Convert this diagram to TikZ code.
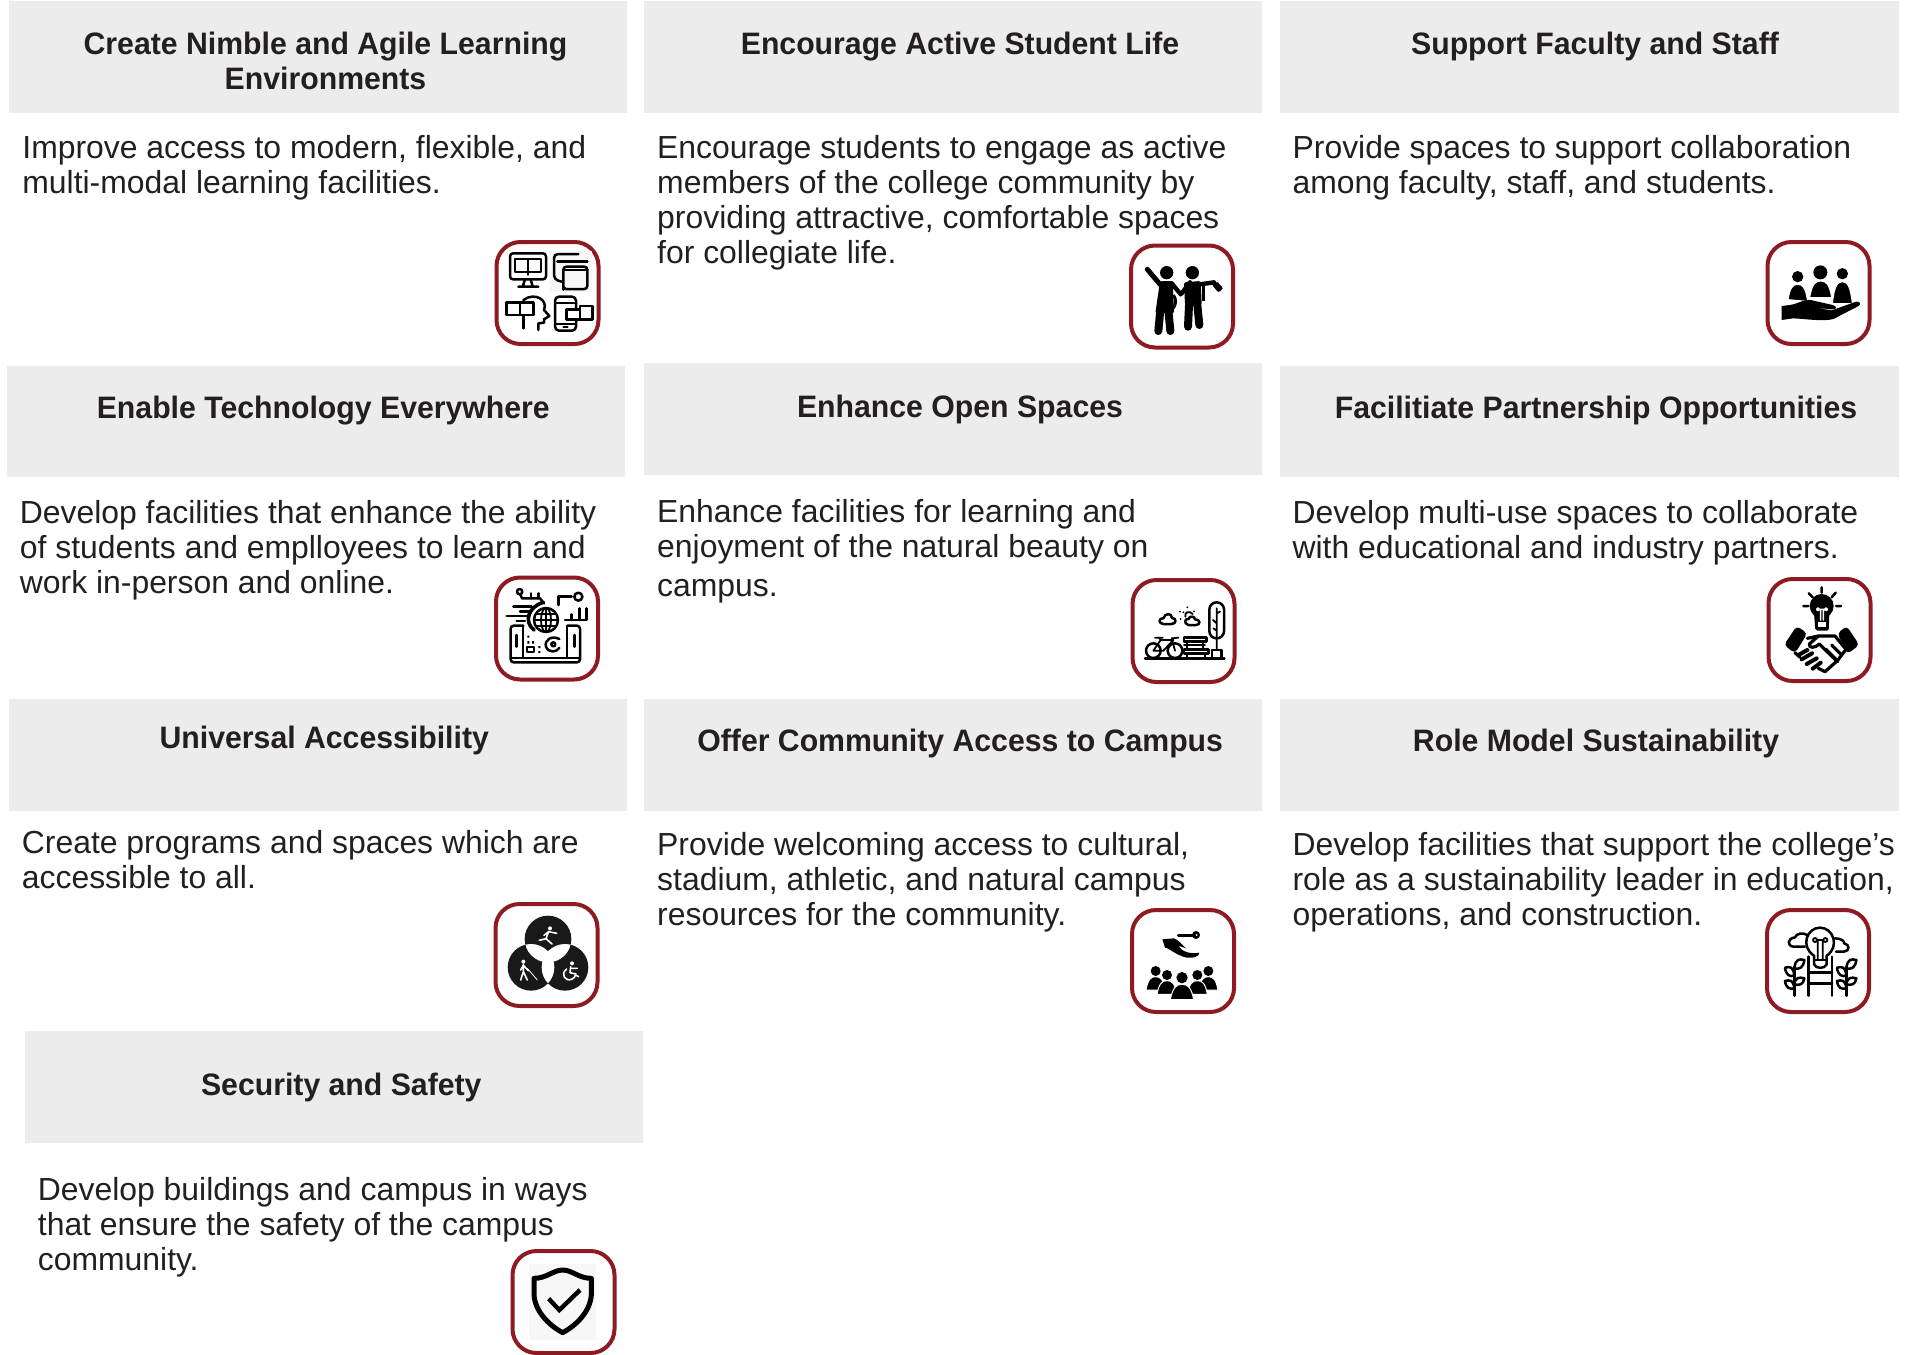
\documentclass[tikz,border=0pt]{standalone}
\usepackage{fontspec}
\setmainfont{Liberation Sans}[BoldFeatures={FakeStretch=0.975}]
\definecolor{hdr}{HTML}{ECECEC}
\definecolor{ink}{HTML}{231F20}
\definecolor{maroon}{HTML}{8E1B22}
\definecolor{bgicon}{HTML}{F7F7F7}
\tikzset{
 header/.style={fill=hdr,draw=none,inner sep=0pt,minimum width=309.25pt,minimum height=55.6pt,anchor=north west},
 titletext/.style={font=\bfseries\fontsize{15.5pt}{17.5pt}\selectfont,text=ink,align=center,anchor=north,inner sep=0pt},
 bodytext/.style={font=\fontsize{15.95pt}{17.5pt}\selectfont,text=ink,align=left,anchor=north west,inner sep=0pt},
 iconframe/.style={draw=maroon,line width=2pt,rounded corners=12pt,minimum width=51pt,minimum height=51pt,inner sep=0pt,fill=white},
 iconspace/.style 2 args={shift={(#1,#2)},x=0.16667pt,y=-0.16667pt},
 ln/.style={draw=black,line width=1.25pt,line cap=round,line join=round},
 thin ln/.style={draw=black,line width=0.9pt,line cap=round,line join=round},
 wl/.style={draw=white,line width=0.8pt,line cap=round,line join=round},
}
\newcommand\bell[4]{% x, top, bottom, halfwidth
 \filldraw[fill=black,draw=white,line width=0.5pt] ({#1-#4},#3) .. controls ({#1-0.8*#4},{#2+0.2*(#3-#2)}) and ({#1-0.5*#4},#2) .. (#1,#2) .. controls ({#1+0.5*#4},#2) and ({#1+0.8*#4},{#2+0.2*(#3-#2)}) .. ({#1+#4},#3) -- cycle;}
\newcommand\leaf[4]{% from, to
 \draw[ln] (#1,#2) .. controls ({#1+0.1*(#3-#1)},{#2-0.9*(#2-#4)-6}) and ({#1+0.5*(#3-#1)},{#4-4}) .. (#3,#4) .. controls ({#3-0.1*(#3-#1)},{#4+0.7*(#2-#4)+6}) and ({#1+0.5*(#3-#1)},{#2+4}) .. (#1,#2);}
\begin{document}
\begin{tikzpicture}[x=0.5pt,y=-0.5pt]
\useasboundingbox (0,0) rectangle (1915,1354);
\fill[white] (0,0) rectangle (1915,1354);
% headers
\node[header,minimum height=56pt] (h1) at (8.5,1) {};
\node[header,minimum height=56pt] (h2) at (643.5,1) {};
\node[header,minimum height=56pt] (h3) at (1280,1) {};
\node[header] (h4) at (6.5,365.5) {};
\node[header] (h5) at (643.5,363) {};
\node[header] (h6) at (1280,365.5) {};
\node[header] (h7) at (8.5,699) {};
\node[header] (h8) at (643.5,699) {};
\node[header] (h9) at (1280,699) {};
\node[header] (h10) at (24.5,1031) {};
% titles
\node[titletext] (t1) at (325.5,29.5) {\strut Create Nimble and Agile Learning\\\strut Environments};
\node[titletext] (t2) at (960,29.5) {\strut Encourage Active Student Life};
\node[titletext] (t3) at (1595,29.5) {\strut Support Faculty and Staff};
\node[titletext] (t4) at (323.3,394) {\strut Enable Technology Everywhere};
\node[titletext] (t5) at (960,393) {\strut Enhance Open Spaces};
\node[titletext] (t6) at (1596,394) {\strut Facilitiate Partnership Opportunities};
\node[titletext] (t7) at (324.3,724) {\strut Universal Accessibility};
\node[titletext] (t8) at (960.2,727) {\strut Offer Community Access to Campus};
\node[titletext] (t9) at (1596,727) {\strut Role Model Sustainability};
\node[titletext] (t10) at (341.3,1071) {\strut Security and Safety};
% bodies
\node[bodytext] (b1) at (22,133.5) {\strut Improve access to modern, flexible, and\\\strut multi-modal learning facilities.};
\node[bodytext] (b2) at (656.8,133.5) {\strut Encourage students to engage as active\\\strut members of the college community by\\\strut providing attractive, comfortable spaces\\\strut for collegiate life.};
\node[bodytext] (b3) at (1292.2,133.5) {\strut Provide spaces to support collaboration\\\strut among faculty, staff, and students.};
\node[bodytext] (b4) at (19.5,499) {\strut Develop facilities that enhance the ability\\\strut of students and emplloyees to learn and\\\strut work in-person and online.};
\node[bodytext] (b5) at (656.8,497.5) {\strut Enhance facilities for learning and\\\strut enjoyment of the natural beauty on\\[2pt]\strut campus.};
\node[bodytext] (b6) at (1292.2,499) {\strut Develop multi-use spaces to collaborate\\\strut with educational and industry partners.};
\node[bodytext] (b7) at (21.5,828.5) {\strut Create programs and spaces which are\\\strut accessible to all.};
\node[bodytext] (b8) at (656.8,831) {\strut Provide welcoming access to cultural,\\\strut stadium, athletic, and natural campus\\\strut resources for the community.};
\node[bodytext] (b9) at (1292.2,831) {\strut Develop facilities that support the college's\\\strut role as a sustainability leader in education,\\\strut operations, and construction.};
\node[bodytext] (b10) at (37.5,1176) {\strut Develop buildings and campus in ways\\\strut that ensure the safety of the campus\\\strut community.};
% frames
\node[iconframe] (f1) at (547.5,293) {};
\node[iconframe] (f2) at (1182,296.5) {};
\node[iconframe] (f3) at (1818.5,293) {};
\node[iconframe] (f4) at (547,628.5) {};
\node[iconframe] (f5) at (1183.5,631) {};
\node[iconframe] (f6) at (1819.5,630) {};
\node[iconframe] (f7) at (546.5,955) {};
\node[iconframe] (f8) at (1183,961) {};
\node[iconframe] (f9) at (1818,961) {};
\node[iconframe] (f10) at (563.5,1302) {};
% icon 1: learning modes
\begin{scope}[iconspace={470}{220}]
\fill[bgicon] (238,92) rectangle (365,215);
\draw[ln,rounded corners=1.5pt] (120,100) rectangle (228,178);
\draw[thin ln] (135,118) rectangle (212,155);
\draw[thin ln] (173,118) -- (173,165);
\draw[ln] (165,178) -- (158,200) (182,178) -- (188,200) (145,200) -- (205,200);
\draw[ln,rounded corners=2pt] (325,102) -- (252,102) -- (252,178) -- (275,185);
\draw[ln] (262,125) -- (352,125);
\draw[ln,rounded corners=1.5pt] (280,200) -- (280,140) -- (352,140) -- (352,207) -- (280,207) -- cycle;
\draw[ln] (285,150) -- (352,150);
\draw[ln] (110,248) rectangle (150,285);
\draw[ln] (150,248) rectangle (190,285);
\draw[ln] (160,240) .. controls (195,215) and (235,240) .. (222,270) -- (238,288) -- (222,298) -- (222,308) -- (205,310) -- (205,330);
\draw[ln] (160,285) -- (160,325);
\draw[ln,rounded corners=2pt] (255,230) rectangle (318,332);
\draw[thin ln] (255,312) -- (318,312) (255,248) -- (318,248) (280,322) -- (293,322);
\filldraw[ln,fill=white] (290,268) rectangle (330,298);
\filldraw[ln,fill=white] (330,258) rectangle (368,298);
\end{scope}
% icon 2: two students
\begin{scope}[iconspace={1110}{225}]
\fill (170,143) circle[radius=20];
\fill (247,143) circle[radius=20];
\draw[black,line width=2.5pt,line cap=round] (112,133) -- (150,178);
\fill[rounded corners=1pt] (150,168) -- (188,168) -- (192,265) -- (136,265) -- cycle;
\draw[black,line width=4pt,line cap=round] (150,265) -- (145,318) (176,265) -- (181,318);
\draw[black,line width=2.2pt,line cap=round] (185,175) -- (212,208);
\draw[black,line width=1.5pt] (190,210) .. controls (200,225) and (198,235) .. (190,250);
\fill[rounded corners=1pt] (222,172) -- (272,168) -- (275,240) -- (225,240) -- cycle;
\draw[black,line width=2.2pt,line cap=round] (240,172) -- (215,205);
\draw[black,line width=4pt,line cap=round] (237,240) -- (234,305) (262,240) -- (268,300);
\draw[black,line width=2.2pt,line cap=round] (270,178) -- (312,172);
\fill (276,178) rectangle (284,228);
\fill[rounded corners=1pt] (305,178) -- (320,168) -- (340,190) -- (325,203) -- cycle;
\end{scope}
% icon 3: people on hand
\begin{scope}[iconspace={1750}{225}]
\fill (143,155) circle[radius=17];
\fill (211,142) circle[radius=21];
\fill (277,146) circle[radius=17];
\bell{143}{178}{230}{30}
\bell{212}{168}{218}{33}
\bell{277}{170}{236}{30}
\fill[white] (110,222) -- (310,240) -- (310,250) -- (110,250) -- cycle;
\fill (95,243) -- (120,240) .. controls (150,235) and (165,218) .. (195,228) -- (248,240) .. controls (262,245) and (262,252) .. (245,253) -- (195,248) -- (245,256) -- (318,230) .. controls (332,228) and (334,240) .. (324,244) -- (250,282) .. controls (220,290) and (170,282) .. (130,280) -- (95,285) -- cycle;
\end{scope}
% icon 4: tech
\begin{scope}[iconspace={470}{565}]
\draw[ln] (149,80) circle[radius=8];
\draw[ln] (151,88) -- (156,100) -- (210,100) -- (222,115);
\draw[ln] (183,85) -- (183,100) (205,85) -- (205,100);
\draw[ln] (130,125) -- (185,125) (150,140) -- (175,140) (110,153) -- (170,153) (140,168) -- (165,168);
\draw[ln] (228,165) circle[radius=36];
\draw[thin ln] (228,165) ellipse[x radius=15,y radius=36];
\draw[thin ln] (192,165) -- (264,165) (198,148) -- (258,148) (198,182) -- (258,182) (228,129) -- (228,201);
\draw[line width=1.8pt,line cap=round] (192,195) .. controls (160,170) and (175,125) .. (220,112);
\draw[ln] (265,120) -- (265,95) -- (305,95);
\draw[ln] (325,95) circle[radius=12];
\draw[ln] (285,165) -- (350,165) -- (350,130);
\draw[ln] (305,165) -- (305,148) (328,165) -- (328,130);
\draw[ln,rounded corners=1.5pt] (160,182) -- (122,182) -- (122,292) -- (330,292) -- (330,182) -- (292,182);
\draw[thin ln] (160,182) -- (160,278) (292,182) -- (292,278) (122,278) -- (330,278);
\draw[ln] (140,210) -- (140,245) (314,210) -- (314,245);
\draw[thin ln] (172,245) rectangle (192,262);
\fill (172,212) rectangle (178,218) (172,228) rectangle (178,236) (186,228) rectangle (192,236) (205,243) rectangle (211,249) (205,258) rectangle (211,264);
\draw[ln] (250,238) circle[radius=6];
\draw[ln] (268,222) .. controls (245,210) and (222,225) .. (228,245) .. controls (235,265) and (262,262) .. (268,248);
\end{scope}
% icon 5: open spaces
\begin{scope}[iconspace={1110}{570}]
\draw[ln] (160,162) .. controls (145,162) and (145,142) .. (160,145) .. controls (165,128) and (185,128) .. (186,144) .. controls (200,143) and (200,162) .. (185,162) -- cycle;
\draw[ln] (235,165) .. controls (220,160) and (225,145) .. (235,147) .. controls (240,135) and (255,140) .. (255,148) .. controls (272,148) and (272,165) .. (258,165) -- cycle;
\draw[thin ln] (226,140) .. controls (222,125) and (240,122) .. (248,132);
\fill (232,112) circle[radius=3] (210,125) circle[radius=3] (252,124) circle[radius=3] (212,147) circle[radius=3] (220,127) circle[radius=3];
\draw[ln,rounded corners=3.6pt] (298,97) rectangle (342,205);
\draw[thin ln] (320,115) -- (320,240) (320,130) -- (330,125) (320,160) -- (309,150) (320,182) -- (310,175);
\draw[ln] (306,265) -- (306,240) -- (335,240) -- (335,265);
\draw[ln] (105,265) -- (343,265);
\draw[ln] (130,242) circle[radius=22] (195,242) circle[radius=22];
\draw[thin ln] (130,242) -- (152,210) -- (190,210) -- (160,242) -- cycle (152,210) -- (146,203) (135,203) -- (158,203) (195,242) -- (185,205) -- (205,203);
\filldraw[ln,fill=white] (222,203) rectangle (290,215);
\filldraw[ln,fill=white] (222,238) rectangle (296,250);
\draw[thin ln] (232,215) -- (232,238) (280,215) -- (280,238) (232,250) -- (232,265) (285,250) -- (285,265) (222,226) -- (285,226);
\end{scope}
% icon 6: partnership
\begin{scope}[iconspace={1750}{570}]
\fill (215,108) circle[radius=36];
\fill[rounded corners=1pt] (192,130) -- (238,130) -- (236,182) -- (196,182) -- cycle;
\fill[white] (205,157) rectangle (227,172);
\draw[wl] (204,118) circle[radius=4] (228,118) circle[radius=4] (212,122) -- (212,150) (220,122) -- (220,150) (208,118) -- (224,118);
\draw[ln] (215,52) -- (215,68) (176,70) -- (188,82) (257,68) -- (245,82) (160,108) -- (175,108) (258,108) -- (273,108);
\fill[rounded corners=2pt] (102,225) -- (140,168) -- (172,190) -- (135,250) -- cycle;
\fill[rounded corners=2pt] (262,190) -- (290,168) -- (328,225) -- (292,252) -- cycle;
\draw[black,line width=1.6pt,line cap=round,line join=round] (172,205) -- (205,198) -- (178,222) .. controls (175,235) and (195,235) .. (208,222) -- (262,275);
\draw[black,line width=1.6pt,line cap=round,line join=round] (205,198) -- (255,198) -- (288,238);
\draw[black,line width=1.6pt,line cap=round] (135,248) -- (150,262);
\draw[black,line width=1.6pt,line cap=round,line join=round] (288,238) -- (262,272) -- (225,305) -- (205,295);
\draw[line width=2pt,line cap=round] (145,255) -- (172,240) (155,268) -- (186,250) (170,282) -- (200,265) (188,296) -- (212,278);
\draw[black,line width=1.6pt,line cap=round] (228,238) -- (262,272) (245,225) -- (275,255);
\end{scope}
% icon 7: accessibility
\begin{scope}[iconspace={470}{900}]
\fill[black!90] (234,117) circle[radius=70] (183,202) circle[radius=70] (285,202) circle[radius=70];
\begin{scope}\clip (234,117) circle[radius=70]; \fill[white] (183,202) circle[radius=70]; \fill[white] (285,202) circle[radius=70];\end{scope}
\begin{scope}\clip (183,202) circle[radius=70]; \fill[white] (285,202) circle[radius=70];\end{scope}
\fill[white] (240,85) circle[radius=6];
\draw[wl] (236,94) -- (228,116) (228,116) -- (208,121) (228,116) -- (246,132) (236,95) -- (222,106) (236,95) -- (260,100);
\fill[white] (160,185) circle[radius=6];
\draw[wl] (160,193) -- (160,215) (160,215) -- (152,240) (160,215) -- (172,240) (160,196) -- (152,210) (160,196) -- (175,212);
\draw[white,line width=0.4pt] (172,205) -- (202,240);
\fill[white] (306,190) circle[radius=6];
\draw[wl] (290,207) .. controls (270,222) and (285,245) .. (305,238) .. controls (312,235) and (316,230) .. (316,225) -- (326,230);
\draw[wl] (302,200) -- (300,218) -- (318,222) (302,205) -- (322,205);
\end{scope}
% icon 8: community access
\begin{scope}[iconspace={1110}{905}]
\draw[black,line width=1.4pt,line cap=round] (205,91) -- (248,91);
\fill (258,90) circle[radius=12];
\fill[white] (260,90) circle[radius=3];
\fill (157,103) -- (192,100) .. controls (205,105) and (215,118) .. (228,130) -- (205,122) .. controls (215,140) and (240,148) .. (268,143) .. controls (268,155) and (250,160) .. (230,158) .. controls (205,152) and (190,140) .. (172,130) -- (165,128) -- cycle;
\fill (137,198) circle[radius=15];
\fill (295,198) circle[radius=15];
\bell{137}{215}{255}{29}
\bell{295}{215}{255}{29}
\fill (171,210) circle[radius=15];
\fill (262,210) circle[radius=15];
\bell{171}{227}{268}{30}
\bell{262}{227}{268}{30}
\fill (216,218) circle[radius=17];
\bell{216}{238}{284}{35}
\end{scope}
% icon 9: sustainability
\begin{scope}[iconspace={1750}{905}]
\draw[ln] (192,152) .. controls (150,125) and (170,68) .. (210,68) .. controls (250,68) and (270,125) .. (230,152) -- (230,178) .. controls (225,192) and (197,192) .. (192,178) -- cycle;
\draw[ln] (192,165) -- (230,165);
\draw[thin ln] (195,105) circle[radius=6] (226,105) circle[radius=6] (201,105) -- (220,105) (203,108) -- (203,165) (218,108) -- (218,165);
\draw[ln] (175,155) -- (175,272) (246,155) -- (246,272) (175,202) -- (246,202) (175,235) -- (246,235);
\draw[ln] (165,125) -- (130,125) .. controls (110,122) and (112,100) .. (135,97) .. controls (138,85) and (160,82) .. (172,90);
\draw[ln] (255,100) .. controls (275,100) and (285,110) .. (282,115) .. controls (300,118) and (300,138) .. (282,140) -- (258,140);
\draw[ln] (133,185) -- (133,272) (289,185) -- (289,272);
\leaf{133}{212}{105}{188}
\leaf{133}{190}{163}{165}
\leaf{133}{250}{105}{228}
\leaf{133}{238}{163}{220}
\leaf{289}{212}{261}{188}
\leaf{289}{190}{319}{165}
\leaf{289}{250}{261}{228}
\leaf{289}{238}{319}{220}
\end{scope}
% icon 10: shield
\begin{scope}[iconspace={490}{1240}]
\fill[bgicon] (117,72) rectangle (318,300);
\draw[black,line width=2.5pt,line join=round] (132,115) .. controls (170,115) and (190,90) .. (218,90) .. controls (246,90) and (266,115) .. (304,115) -- (304,165) .. controls (300,215) and (260,255) .. (218,278) .. controls (176,255) and (136,215) .. (132,165) -- cycle;
\draw[black,line width=2.2pt] (176,176) -- (208,210) -- (270,150);
\end{scope}
\end{tikzpicture}
\end{document}
